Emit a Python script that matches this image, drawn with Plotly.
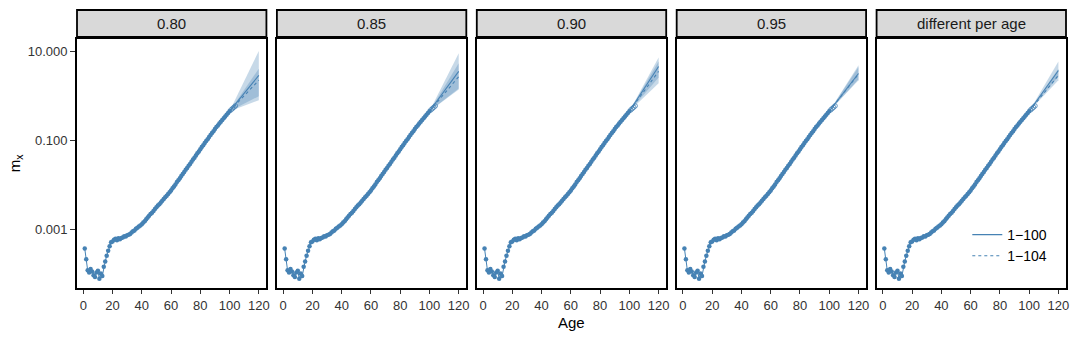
import plotly.graph_objects as go

# ---------------- data ----------------
panels = ["0.80", "0.85", "0.90", "0.95", "different per age"]

ages_obs = list(range(1, 101))
mx_obs = [
    0.000363, 0.000209, 0.000117, 0.000105, 0.000126, 0.000110, 0.0000912, 0.0000832, 0.000105, 0.000115,
    0.0000759, 0.000100, 0.0000871, 0.000141, 0.000186, 0.000251, 0.000324, 0.000407, 0.000501, 0.000525,
    0.000575, 0.000603, 0.000562, 0.000617, 0.000589, 0.000631, 0.000646, 0.000692, 0.000676, 0.000724,
    0.000741, 0.000776, 0.000832, 0.000891, 0.000933, 0.00102, 0.00107, 0.00115, 0.00120, 0.00129,
    0.00141, 0.00151, 0.00166, 0.00182, 0.00200, 0.00219, 0.00234, 0.00257, 0.00282, 0.00309,
    0.00339, 0.00363, 0.00398, 0.00437, 0.00479, 0.00525, 0.00562, 0.00617, 0.00676, 0.00741,
    0.00832, 0.00912, 0.0102, 0.0115, 0.0126, 0.0141, 0.0158, 0.0174, 0.0195, 0.0219,
    0.0240, 0.0269, 0.0295, 0.0331, 0.0372, 0.0407, 0.0457, 0.0513, 0.0562, 0.0631,
    0.0708, 0.0776, 0.0871, 0.0977, 0.107, 0.120, 0.132, 0.148, 0.162, 0.182,
    0.200, 0.219, 0.240, 0.263, 0.288, 0.316, 0.347, 0.380, 0.417, 0.457,
]
ages_extra = [101, 102, 103, 104]
mx_extra = [0.490, 0.525, 0.562, 0.603]

ext_ages = [100, 110, 120]
fit100 = [[0.457, 1.16, 2.95], [0.457, 1.29, 3.63], [0.457, 1.46, 4.68], [0.457, 1.22, 3.24], [0.457, 1.32, 3.80]]
fit100_lo = [[0.457, 0.676, 1.00], [0.457, 0.822, 1.48], [0.457, 1.10, 2.63], [0.457, 1.02, 2.29], [0.457, 1.12, 2.75]]
fit100_hi = [[0.457, 2.19, 10.5], [0.457, 2.07, 9.33], [0.457, 1.84, 7.41], [0.457, 1.51, 5.01], [0.457, 1.66, 6.03]]
fit104 = [[0.457, 1.02, 2.29], [0.457, 1.12, 2.75], [0.457, 1.29, 3.63], [0.457, 1.20, 3.16], [0.457, 1.16, 2.95]]
fit104_lo = [[0.457, 0.61, 0.81], [0.457, 0.80, 1.41], [0.457, 0.944, 1.95], [0.457, 1.05, 2.40], [0.457, 1.02, 2.29]]
fit104_hi = [[0.457, 1.38, 4.17], [0.457, 1.58, 5.50], [0.457, 1.66, 6.03], [0.457, 1.45, 4.57], [0.457, 1.38, 4.17]]

x_ticks = [0, 20, 40, 60, 80, 100, 120]
y_ticks = [10, 0.1, 0.001]
y_ticktext = ["10.000", "0.100", "0.001"]
legend_names = ["1\u2212100", "1\u2212104"]

# ---------------- style ----------------
COL = "#4682B4"
BAND = "rgba(70,130,180,0.30)"
FONT = "Liberation Sans, Arial, sans-serif"
W, H = 1080, 338
L, R, T, B = 77, 11, 39, 50
PW = W - L - R
PH = H - T - B
panel_left = [77, 277.5, 478, 678.5, 879]
panel_w = 190

fig = go.Figure()

for i, name in enumerate(panels):
    k = "" if i == 0 else str(i + 1)
    xa, ya = "x" + k, "y" + k
    # band 1-100
    fig.add_trace(go.Scatter(x=ext_ages + ext_ages[::-1], y=fit100_hi[i] + fit100_lo[i][::-1],
                             fill="toself", fillcolor=BAND, line=dict(width=0), mode="lines",
                             hoverinfo="skip", showlegend=False, xaxis=xa, yaxis=ya))
    # band 1-104
    fig.add_trace(go.Scatter(x=ext_ages + ext_ages[::-1], y=fit104_hi[i] + fit104_lo[i][::-1],
                             fill="toself", fillcolor=BAND, line=dict(width=0), mode="lines",
                             hoverinfo="skip", showlegend=False, xaxis=xa, yaxis=ya))
    # observed
    fig.add_trace(go.Scatter(x=ages_obs, y=mx_obs, mode="lines+markers",
                             line=dict(color=COL, width=1), marker=dict(color=COL, size=4.5),
                             showlegend=False, xaxis=xa, yaxis=ya))
    fig.add_trace(go.Scatter(x=ages_extra, y=mx_extra, mode="markers",
                             marker=dict(color="rgba(0,0,0,0)", size=4.5, line=dict(color=COL, width=0.8)),
                             showlegend=False, xaxis=xa, yaxis=ya))
    # extrapolations
    fig.add_trace(go.Scatter(x=ext_ages, y=fit100[i], mode="lines", line=dict(color=COL, width=1.1),
                             name=legend_names[0], showlegend=(i == 0), xaxis=xa, yaxis=ya))
    fig.add_trace(go.Scatter(x=ext_ages, y=fit104[i], mode="lines", line=dict(color=COL, width=1.1, dash="dot"),
                             name=legend_names[1], showlegend=(i == 0), xaxis=xa, yaxis=ya))

    d0 = (panel_left[i] - L) / PW
    d1 = (panel_left[i] + panel_w - L) / PW
    fig.update_layout(**{
        "xaxis" + k: dict(domain=[d0, d1], range=[-4.3, 125.2], tickvals=x_ticks, anchor=ya,
                         showline=True, mirror=True, linecolor="black", linewidth=1.8,
                         ticks="outside", ticklen=4, tickwidth=1.2, tickcolor="#333",
                         showgrid=False, zeroline=False,
                         tickfont=dict(family=FONT, size=13, color="#333")),
        "yaxis" + k: dict(type="log", range=[-4.33, 1.29], domain=[0, 1], anchor=xa,
                         tickvals=y_ticks, ticktext=y_ticktext,
                         showticklabels=(i == 0), ticks=("outside" if i == 0 else ""),
                         ticklen=5, tickwidth=1.2, tickcolor="#333",
                         showline=True, mirror=True, linecolor="black", linewidth=1.8,
                         showgrid=False, zeroline=False,
                         tickfont=dict(family=FONT, size=13, color="#333")),
    })
    # strip
    s_y0 = (H - B - 37) / PH
    s_y1 = (H - B - 10) / PH
    fig.add_shape(type="rect", xref="paper", yref="paper", x0=d0, x1=d1, y0=s_y0, y1=s_y1,
                  fillcolor="#D9D9D9", line=dict(color="black", width=1.8), layer="above")
    fig.add_annotation(xref="paper", yref="paper", x=(d0 + d1) / 2, y=(s_y0 + s_y1) / 2,
                       text=name, showarrow=False, xanchor="center", yanchor="middle",
                       font=dict(family=FONT, size=15, color="#1a1a1a"))

# axis titles
fig.add_annotation(xref="paper", yref="paper", x=0.5, y=(H - B - 322) / PH, text="Age",
                   showarrow=False, xanchor="center", yanchor="middle",
                   font=dict(family=FONT, size=15, color="black"))
fig.add_annotation(xref="paper", yref="paper", x=(15 - L) / PW, y=(H - B - 163) / PH, text="m<sub>x</sub>",
                   showarrow=False, xanchor="center", yanchor="middle", textangle=-90,
                   font=dict(family=FONT, size=15, color="black"))

fig.update_layout(
    width=W, height=H,
    margin=dict(l=L, r=R, t=T, b=B),
    paper_bgcolor="white", plot_bgcolor="white",
    showlegend=True,
    legend=dict(x=(970 - L) / PW, y=(H - B - 219) / PH, xanchor="left", yanchor="top",
                bgcolor="rgba(0,0,0,0)", font=dict(family=FONT, size=14, color="black"),
                itemwidth=30, tracegroupgap=0),
)

fig.write_html("out.html", post_script="document.body.style.margin='0';",
               config={"displayModeBar": False})
